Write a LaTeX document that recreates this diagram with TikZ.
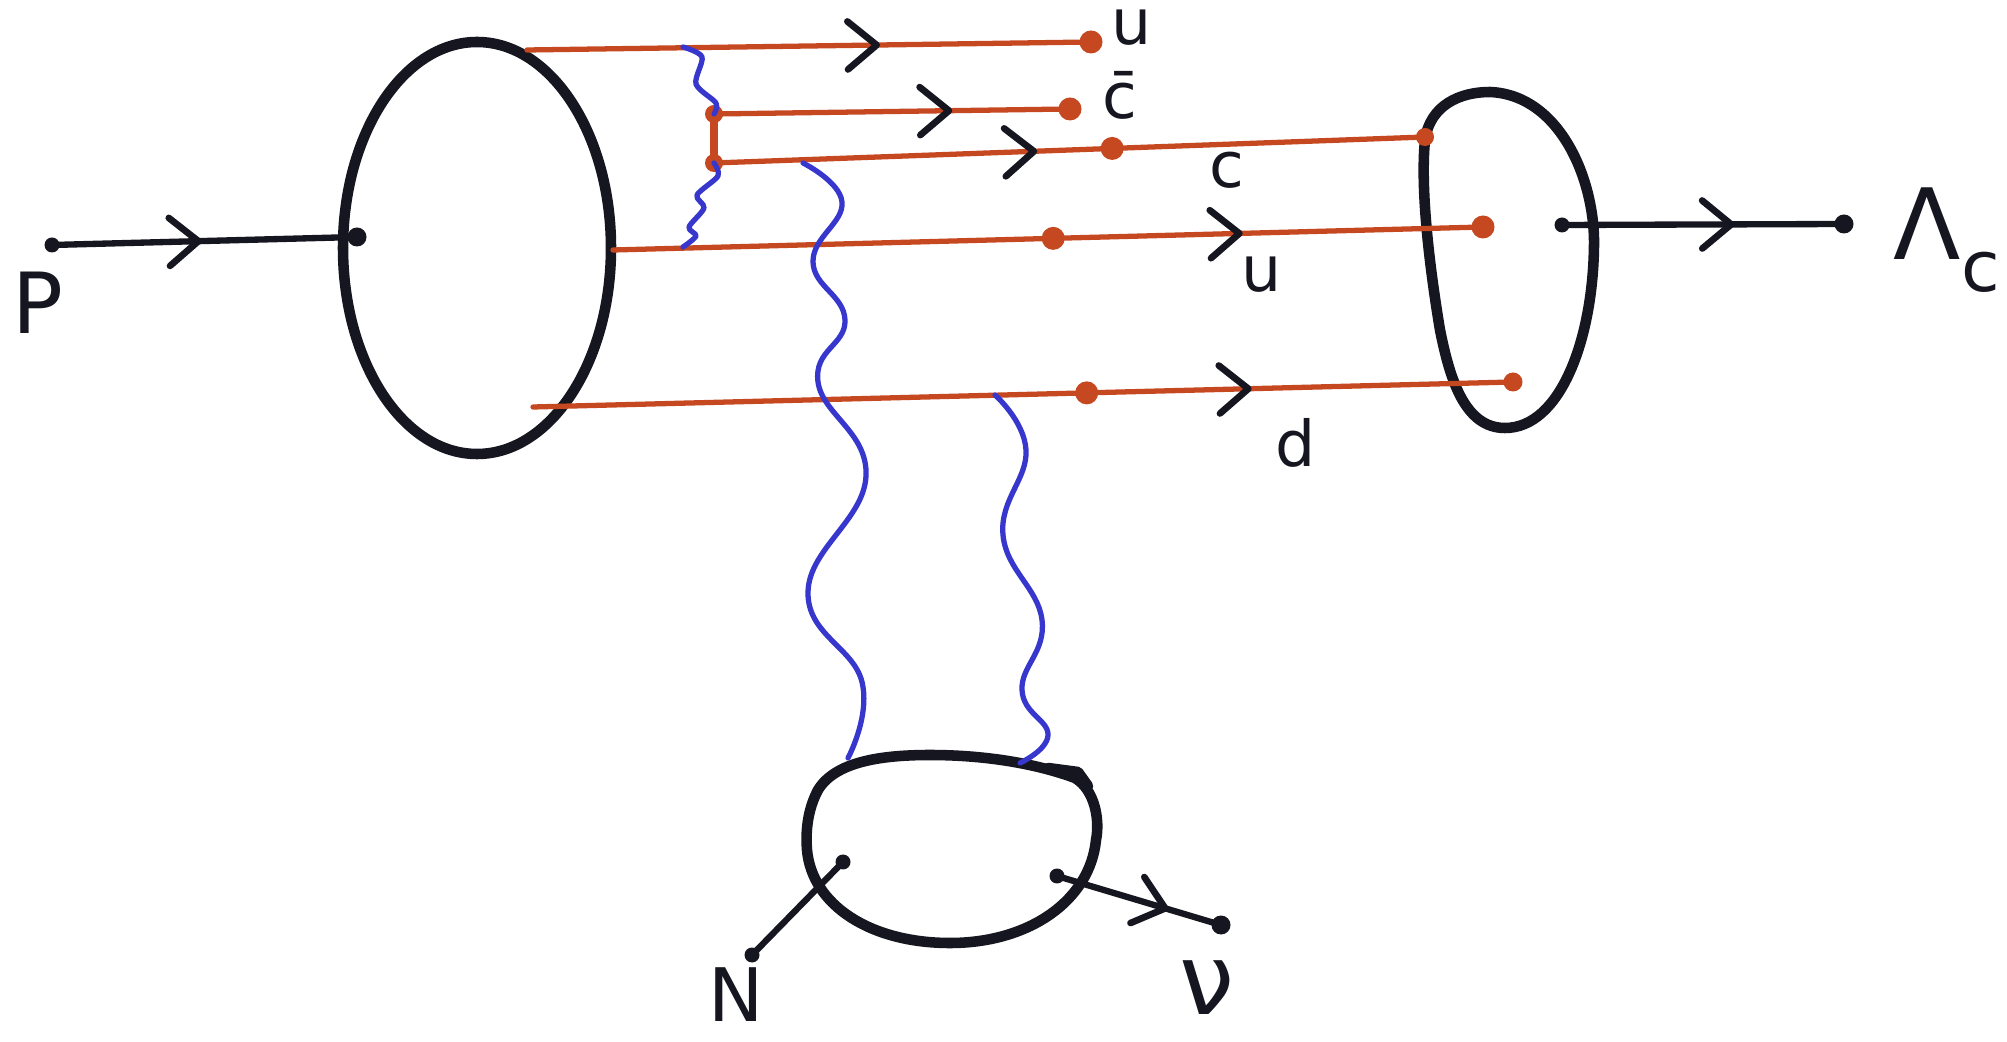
\documentclass[tikz,border=0pt]{standalone}
\usepackage{fontspec}
\setmainfont{DejaVu Sans}
\usetikzlibrary{decorations.markings,calc}
\definecolor{qred}{RGB}{198,72,32}
\definecolor{gblue}{RGB}{55,55,205}
\definecolor{ink}{RGB}{22,22,32}
\begin{document}
\begin{tikzpicture}[x=0.1mm,y=-0.1mm,
  blob/.style={draw=ink,line width=3pt,line join=round,line cap=round},
  quark/.style={draw=qred,line width=1.5pt,line cap=round},
  gluon/.style={draw=gblue,line width=1.5pt,line cap=round,line join=round},
  ext/.style={draw=ink,line width=1.8pt,line cap=round},
  chev/.style={postaction={decorate},decoration={markings,mark=at position #1 with {\draw[ink,line width=1.9pt,line cap=round,line join=round] (-2.9mm,2.4mm)--(0,0)--(-2.9mm,-2.4mm);}}},
  qdot/.style={circle,fill=qred,inner sep=0pt,minimum size=2.3mm},
  kdot/.style={circle,fill=ink,inner sep=0pt,minimum size=1.9mm},
  lab/.style={text=ink,inner sep=0pt,font=\fontsize{18}{20}\selectfont},
  biglab/.style={text=ink,inner sep=0pt,font=\fontsize{24}{26}\selectfont},
]
\useasboundingbox[fill=white] (0,0) rectangle (2007,1042);

% blobs
\draw[blob] (477,248) ellipse [x radius=134, y radius=206];
\draw[blob] (1490,92) .. controls (1560,95) and (1595,180) .. (1594,245)
  .. controls (1593,340) and (1560,428) .. (1505,428)
  .. controls (1465,428) and (1450,380) .. (1440,330)
  .. controls (1430,270) and (1420,190) .. (1425,140)
  .. controls (1430,105) and (1460,92) .. (1490,92) -- cycle;
\draw[blob] (818,790) .. controls (835,762) and (880,755) .. (930,755)
  .. controls (990,755) and (1040,765) .. (1075,778)
  .. controls (1095,790) and (1100,820) .. (1096,840)
  .. controls (1090,900) and (1030,943) .. (950,943)
  .. controls (870,943) and (812,905) .. (807,850)
  .. controls (805,825) and (810,805) .. (818,790) -- cycle;
\draw[blob] (1048,768) -- (1078,772) -- (1088,786);

% coordinates
\coordinate (pin) at (52,245);
\coordinate (pv) at (357,237);
\coordinate (u1a) at (527,50);
\coordinate (u1b) at (1091,42);
\coordinate (cba) at (714,114);
\coordinate (cbb) at (1070,109);
\coordinate (ca) at (714,163);
\coordinate (cb) at (1425,137);
\coordinate (u2a) at (613,250);
\coordinate (u2b) at (1483,227);
\coordinate (da) at (533,407);
\coordinate (db) at (1513,382);
\coordinate (lca) at (1562,225);
\coordinate (lcb) at (1844,224);
\coordinate (na) at (843,862);
\coordinate (nb) at (752,955);
\coordinate (nua) at (1057,876);
\coordinate (nub) at (1221,925);
\coordinate (g1a) at (683,47);
\coordinate (g1b) at (683,247);
\coordinate (g2a) at (803,163);
\coordinate (g2b) at (848,758);
\coordinate (g3a) at (995,395);
\coordinate (g3b) at (1020,763);

% external lines
\draw[ext,chev=0.48] (pin) -- (pv);
\node[kdot] (pdot) at (pv) {};
\node[kdot,minimum size=1.5mm] (pindot) at (pin) {};
\draw[ext,chev=0.6] (lca) -- (lcb);
\node[kdot] (lcdot) at (lcb) {};
\node[kdot,minimum size=1.5mm] (lcadot) at (lca) {};
\draw[ext] (na) -- (nb);
\node[kdot,minimum size=1.5mm] (nbdot) at (nb) {};
\node[kdot,minimum size=1.5mm] (nadot) at (na) {};
\draw[ext,chev=0.66] (nua) -- (nub);
\node[kdot] (nubdot) at (nub) {};
\node[kdot,minimum size=1.5mm] (nuadot) at (nua) {};

% quark lines
\draw[quark,chev=0.62] (u1a) -- (u1b);
\draw[quark,chev=0.66] (cba) -- (cbb);
\draw[quark,chev=0.45] (ca) -- (cb);
\draw[quark,chev=0.72] (u2a) -- (u2b);
\draw[quark,chev=0.73] (da) -- (db);
\draw[quark,line width=2.2pt] (cba) -- (ca);

\node[qdot] (u1dot) at (u1b) {};
\node[qdot] (cbdot) at (cbb) {};
\node[qdot] (u2dot) at (u2b) {};
\node[qdot,minimum size=1.9mm] (ddot) at (db) {};
\node[qdot,minimum size=1.8mm] (cdot) at (cb) {};
\node[qdot,minimum size=1.8mm] (cadot) at (ca) {};
\node[qdot,minimum size=1.8mm] (cbadot) at (cba) {};
\node[qdot] (cmid) at ($(ca)!0.56!(cb)$) {};
\node[qdot] (u2mid) at ($(u2a)!0.506!(u2b)$) {};
\node[qdot] (dmid) at ($(da)!0.565!(db)$) {};

% gluons
\draw[gluon] plot[smooth,tension=0.5] coordinates {(g1a) (702,57) (696,84) (716,103) (cba)};
\draw[gluon] plot[smooth,tension=0.5] coordinates {(ca) (718,176) (697,195) (704,208) (689,227) (696,236) (g1b)};
\draw[gluon] plot[smooth,tension=0.75] coordinates {(g2a) (842,202) (813,262) (845,320) (818,382) (866,476) (808,592) (862,682) (g2b)};
\draw[gluon] plot[smooth,tension=0.75] coordinates {(g3a) (1026,450) (1003,535) (1042,620) (1022,690) (1048,735) (g3b)};

% labels
\node[lab] (lu1) at (1132,27) {u};
\node[lab] (lcbar) at (1120,95) {\=c};
\node[lab] (lc) at (1227,170) {c};
\node[lab] (lu2) at (1262,274) {u};
\node[lab] (ld) at (1296,443) {d};
\node[biglab] (lp) at (38,303) {P};
\node[text=ink,inner sep=0pt,font=\fontsize{28}{30}\selectfont,anchor=west] (llc) at (1893,240) {Λ{\fontsize{20}{22}\selectfont\raisebox{-0.45em}{c}}};
\node[text=ink,inner sep=0pt,font=\fontsize{21}{23}\selectfont] (ln) at (736,995) {N};
\node[text=ink,inner sep=0pt,font=\fontsize{28}{30}\selectfont] (lnu) at (1207,988) {ν};
\end{tikzpicture}
\end{document}
